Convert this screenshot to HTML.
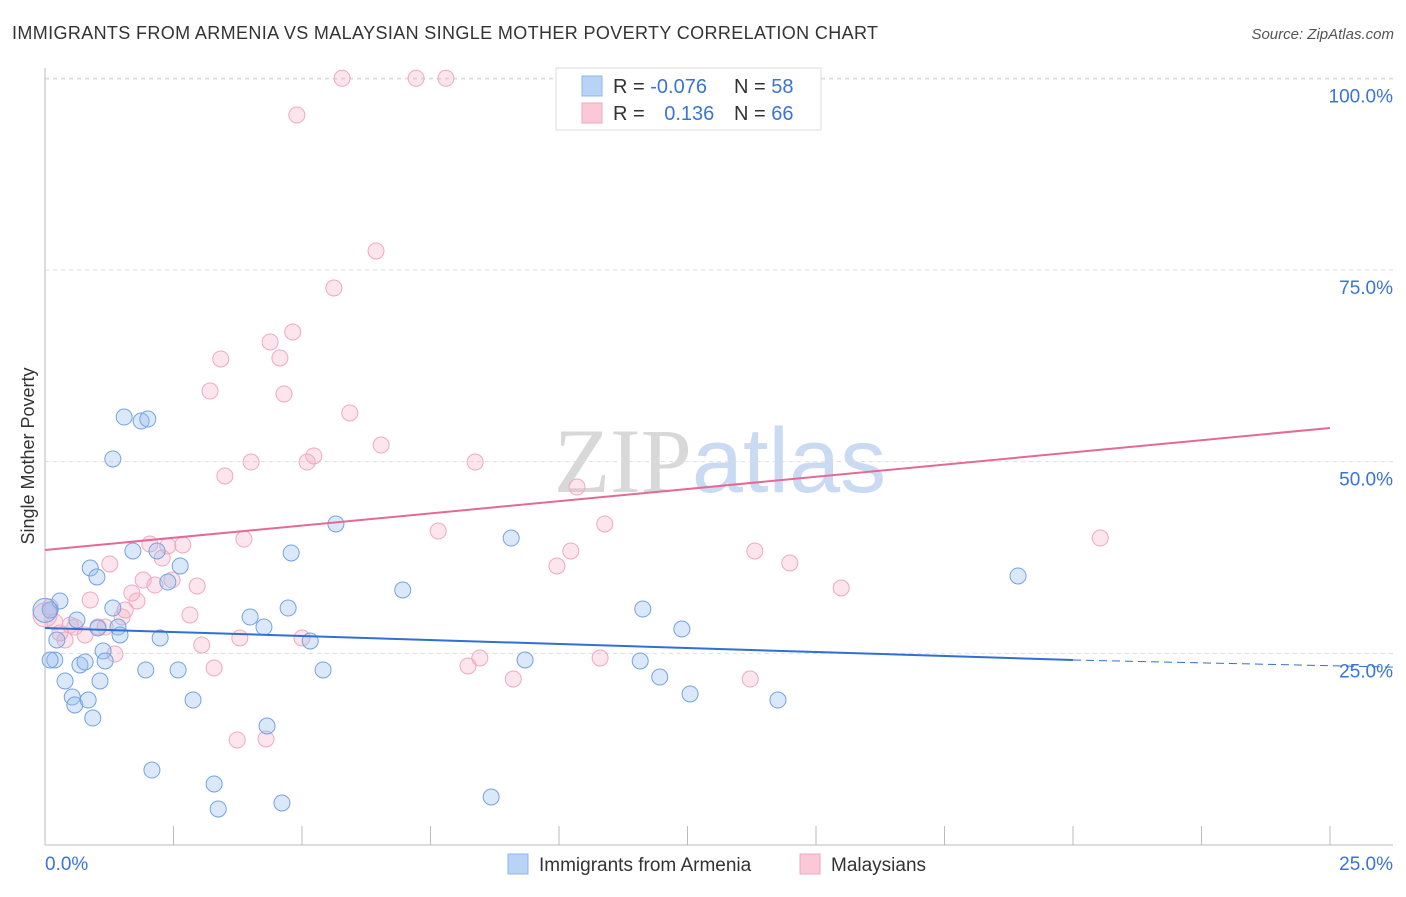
<!DOCTYPE html>
<html><head><meta charset="utf-8"><style>
body{margin:0;background:#fff;font-family:"Liberation Sans",sans-serif;}
svg text{font-family:"Liberation Sans",sans-serif;}
</style></head><body>
<svg id="chart" width="1406" height="892" xmlns="http://www.w3.org/2000/svg">
<text x="12" y="39" font-size="18" fill="#333" textLength="866" lengthAdjust="spacing">IMMIGRANTS FROM ARMENIA VS MALAYSIAN SINGLE MOTHER POVERTY CORRELATION CHART</text>
<text x="1394" y="39" font-size="15" fill="#555" text-anchor="end" font-style="italic">Source: ZipAtlas.com</text>
<text x="720" y="492" font-size="92" text-anchor="middle"><tspan fill="#d8d8d8" font-family="Liberation Serif">ZIP</tspan><tspan fill="#c9daf2">atlas</tspan></text>
<text transform="translate(34,456) rotate(-90)" font-size="18" fill="#333" text-anchor="middle">Single Mother Poverty</text>
<g id="grid"></g>
<g id="axes"></g>
<g id="points"></g>
<g id="trends"></g>
<g>
<rect x="556" y="68" width="265" height="62" fill="#fff" stroke="#ddd"/>
<rect x="582" y="76" width="20" height="20" fill="#b9d3f5" stroke="#8db4ea"/>
<rect x="582" y="103" width="20" height="20" fill="#fac8d6" stroke="#f0a6bd"/>
<text x="613" y="93" font-size="20" fill="#333">R = <tspan fill="#3a74d8">-0.076</tspan></text>
<text x="734" y="93" font-size="20" fill="#333">N = <tspan fill="#3a74d8">58</tspan></text>
<text x="613" y="120" font-size="20" fill="#333">R = <tspan fill="#3a74d8" dx="14">0.136</tspan></text>
<text x="734" y="120" font-size="20" fill="#333">N = <tspan fill="#3a74d8">66</tspan></text>
</g>
<g>
<rect x="508" y="854" width="20" height="20" fill="#b9d3f5" stroke="#8db4ea"/>
<text x="539" y="871" font-size="19" fill="#333">Immigrants from Armenia</text>
<rect x="800" y="854" width="20" height="20" fill="#fac8d6" stroke="#f0a6bd"/>
<text x="831" y="871" font-size="19" fill="#333">Malaysians</text>
</g>
</svg>
<script>
const yTicks=[25,50,75,100];
const yTickLabels=["25.0%","50.0%","75.0%","100.0%"];
const xTickLabels=["0.0%","25.0%"];
const blueX=[0.10,0.19,0.10,0.29,0.23,0.39,0.53,0.58,0.62,0.68,0.78,0.84,0.93,0.88,1.01,1.03,1.07,1.13,1.17,1.32,1.32,1.42,1.46,1.54,1.71,1.87,2.00,1.96,2.08,2.18,2.24,2.39,2.59,2.63,2.88,3.29,3.37,3.99,4.26,4.32,4.61,4.73,4.79,5.16,5.41,5.66,6.96,8.68,9.07,9.34,11.58,11.63,11.96,12.39,12.55,14.26,18.93,0.0];
const blueY=[30.65,24.13,24.13,31.83,26.74,21.39,19.30,18.26,29.35,23.48,23.87,18.91,16.56,36.13,34.96,28.30,21.39,25.30,24.00,30.91,50.35,28.43,27.39,55.82,38.35,55.30,55.56,22.83,9.78,38.35,27.00,34.30,22.83,36.39,18.91,7.96,4.70,29.74,28.43,15.52,5.48,30.91,38.09,26.61,22.83,41.87,33.26,6.26,40.04,24.13,24.00,30.78,21.91,28.17,19.70,18.91,35.09,30.6];
const pinkX=[0.10,0.19,0.29,0.39,0.49,0.58,0.78,0.88,1.03,1.17,1.26,1.36,1.50,1.56,1.69,1.79,1.91,2.04,2.14,2.28,2.39,2.47,2.68,2.82,2.96,3.05,3.21,3.29,3.42,3.50,3.74,3.79,3.87,4.01,4.30,4.38,4.57,4.65,4.82,4.90,5.00,5.10,5.23,5.62,5.78,5.93,6.44,6.54,7.22,7.80,7.65,8.23,8.37,8.46,9.11,9.96,10.23,10.35,10.80,10.89,13.72,13.81,14.49,15.49,20.53,0.0];
const pinkY=[31.04,29.09,27.65,26.74,28.69,28.43,27.39,31.96,28.43,28.43,36.65,24.91,29.74,30.65,32.87,31.83,34.56,39.26,33.91,37.43,39.00,34.56,39.13,30.00,33.78,26.09,59.21,23.09,63.39,48.13,13.70,27.00,39.91,49.95,13.83,65.61,63.52,58.82,66.91,95.21,27.00,49.95,50.74,72.65,100,56.35,77.48,52.17,100,100,40.95,23.35,49.95,24.39,21.65,36.39,38.35,46.69,24.39,41.87,21.65,38.35,36.78,33.52,40.04,30.0];
const blueTrend=[[0,28.30],[20,24.13]];
const blueTrendExt=[[20,24.13],[26.23,23.2]];
const pinkTrend=[[0,38.48],[25,54.39]];
const NS="http://www.w3.org/2000/svg";
const sx=v=>45+v*51.4;
const sy=v=>845-v*7.667;
function mk(tag,attrs,parent){const e=document.createElementNS(NS,tag);for(const k in attrs)e.setAttribute(k,attrs[k]);parent.appendChild(e);return e;}
const grid=document.getElementById('grid'),axes=document.getElementById('axes'),pts=document.getElementById('points'),tr=document.getElementById('trends');
mk('line',{x1:45,y1:79,x2:1393,y2:79,stroke:'#ddd','stroke-dasharray':'4,4'},grid);
yTicks.forEach((t,i)=>{
 const l=mk('line',{x1:45,y1:sy(t),x2:1393,y2:sy(t),stroke:'#ddd','stroke-dasharray':'4,4'},grid);
 
 
 const tx=mk('text',{x:1393,y:sy(t)+24,'font-size':19,fill:'#3a74d8','text-anchor':'end'},axes);
 tx.textContent=yTickLabels[i];
 
 
});
mk('line',{x1:45,y1:68,x2:45,y2:845,stroke:'#bbb'},axes);
mk('line',{x1:45,y1:845,x2:1393,y2:845,stroke:'#bbb'},axes);
for(let i=0;i<=10;i++){const l=mk('line',{x1:sx(i*2.5),y1:826,x2:sx(i*2.5),y2:845,stroke:'#bbb'},axes);
 
 }
const xl0=mk('text',{x:45,y:870,'font-size':19,fill:'#3a74d8'},axes);xl0.textContent=xTickLabels[0];


const xl1=mk('text',{x:1393,y:870,'font-size':19,fill:'#3a74d8','text-anchor':'end'},axes);xl1.textContent=xTickLabels[1];


pinkX.forEach((x,i)=>{const c=mk('circle',{cx:sx(x),cy:sy(pinkY[i]),r:i==pinkX.length-1?12:8,fill:'rgba(246,168,194,0.3)',stroke:'#efa9bf','stroke-width':1},pts);
 
 });
blueX.forEach((x,i)=>{const c=mk('circle',{cx:sx(x),cy:sy(blueY[i]),r:i==blueX.length-1?12:8,fill:'rgba(150,190,240,0.35)',stroke:'#74a3e0','stroke-width':1},pts);
 
 });
const bl=mk('line',{x1:sx(blueTrend[0][0]),y1:sy(blueTrend[0][1]),x2:sx(blueTrend[1][0]),y2:sy(blueTrend[1][1]),stroke:'#2f6fd6','stroke-width':2},tr);


const bd=mk('line',{x1:sx(blueTrendExt[0][0]),y1:sy(blueTrendExt[0][1]),x2:sx(blueTrendExt[1][0]),y2:sy(blueTrendExt[1][1]),stroke:'#2f6fd6','stroke-width':1,'stroke-dasharray':'8,5'},tr);


const pl=mk('line',{x1:sx(pinkTrend[0][0]),y1:sy(pinkTrend[0][1]),x2:sx(pinkTrend[1][0]),y2:sy(pinkTrend[1][1]),stroke:'#e46a95','stroke-width':2},tr);


</script>
</body></html>
